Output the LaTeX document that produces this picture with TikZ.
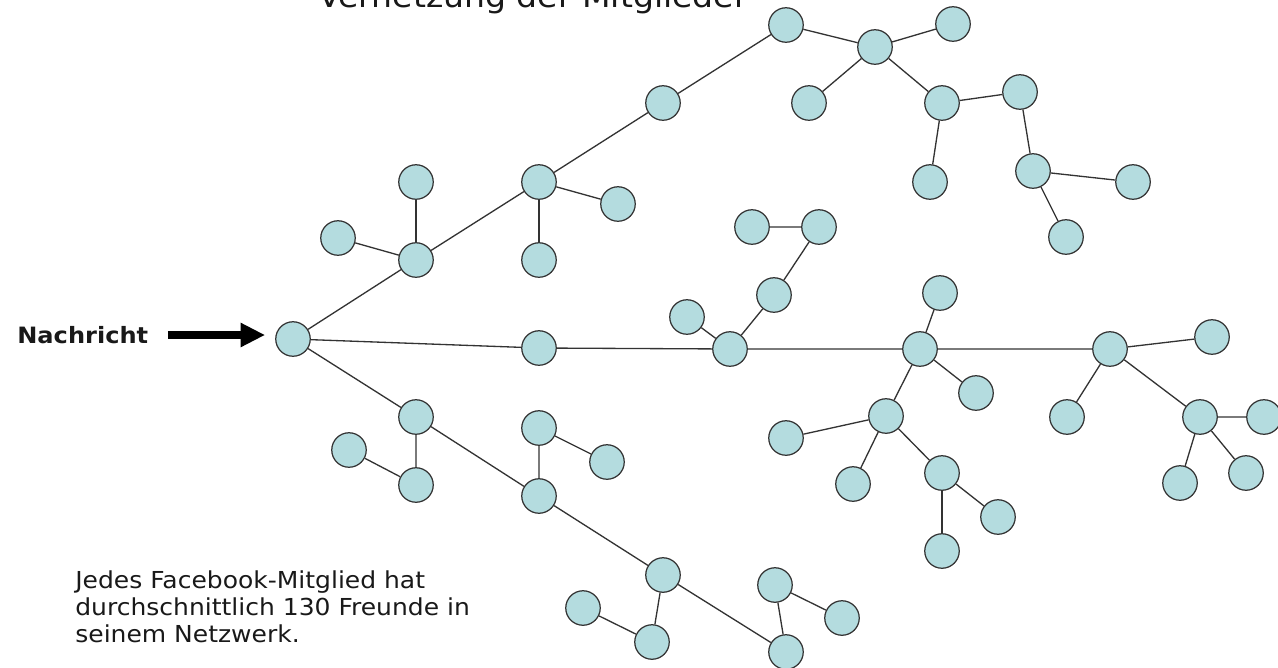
\documentclass[tikz,border=0pt]{standalone}
\usepackage{fontspec}
\newfontfamily\verdfont[FakeStretch=1.07]{DejaVu Sans}
\usetikzlibrary{arrows.meta}
\definecolor{memberfill}{RGB}{180,220,223}
\definecolor{textgray}{RGB}{25,25,25}

\begin{document}
\begin{tikzpicture}[x=0.02cm,y=-0.02cm,
  member/.style={circle,draw=black!80,line width=0.7pt,fill=memberfill,minimum size=0.69cm,inner sep=0pt},
  link/.style={draw=black!80,line width=0.75pt},
  msgarrow/.style={line width=4pt,-{Triangle[length=14pt,width=13pt]},shorten <=11pt,shorten >=5.7pt}]
\useasboundingbox (0,0) rectangle (1278,667);
\clip (0,0) rectangle (1278,667);
%\draw[step=50,gray,very thin] (0,0) grid (1278,667); %background grid

% title, cut at the top edge
\node[anchor=base west,inner sep=0pt,text=textgray,font=\verdfont\fontsize{17.6pt}{20pt}\selectfont] (title) at (318,7) {Vernetzung der Mitglieder};

% members
\node[member] (root) at (293,339) {};

\node[member] (a1) at (416,260) {};
\node[member] (a1t) at (416,182) {};
\node[member] (a1l) at (338,238) {};
\node[member] (a2) at (539,182) {};
\node[member] (a2r) at (618,204) {};
\node[member] (a2b) at (539,260) {};
\node[member] (a3) at (663,103) {};
\node[member] (a4) at (786,25) {};
\node[member] (a5) at (875,47) {};
\node[member] (a5r) at (953,24) {};
\node[member] (a5l) at (809,103) {};
\node[member] (a6) at (942,103) {};
\node[member] (a6b) at (930,182) {};
\node[member] (a7) at (1020,92) {};
\node[member] (a8) at (1033,171) {};
\node[member] (a8r) at (1133,182) {};
\node[member] (a8b) at (1066,237) {};

\node[member] (m1) at (539,348) {};
\node[member] (b) at (730,349) {};
\node[member] (bl) at (687,317) {};
\node[member] (bm) at (774,295) {};
\node[member] (btr) at (819,227) {};
\node[member] (btl) at (752,227) {};

\node[member] (c) at (920,349) {};
\node[member] (ct) at (940,293) {};
\node[member] (cr) at (976,393) {};
\node[member] (c2) at (886,416) {};
\node[member] (c2l) at (786,438) {};
\node[member] (c2b) at (853,484) {};
\node[member] (c3) at (942,473) {};
\node[member] (c3r) at (998,517) {};
\node[member] (c3b) at (942,551) {};

\node[member] (d) at (1110,349) {};
\node[member] (dtr) at (1212,337) {};
\node[member] (dl) at (1067,417) {};
\node[member] (d2) at (1200,417) {};
\node[member] (d2r) at (1264,417) {};
\node[member] (d2b) at (1180,483) {};
\node[member] (d2c) at (1246,473) {};

\node[member] (f1) at (416,417) {};
\node[member] (f1b) at (416,485) {};
\node[member] (f1l) at (349,450) {};
\node[member] (g) at (539,496) {};
\node[member] (gt) at (539,428) {};
\node[member] (gr) at (607,462) {};
\node[member] (h) at (663,575) {};
\node[member] (hb) at (652,642) {};
\node[member] (hl) at (583,608) {};
\node[member] (e) at (786,652) {};
\node[member] (et) at (775,585) {};
\node[member] (er) at (842,618) {};

% upper branch
\draw[link] (root) -- (a1) -- (a2) -- (a3) -- (a4) -- (a5) -- (a6) -- (a7) -- (a8) -- (a8r);
\draw[link] (a1) -- (a1t);
\draw[link] (a1) -- (a1l);
\draw[link] (a2) -- (a2r);
\draw[link] (a2) -- (a2b);
\draw[link] (a5) -- (a5r);
\draw[link] (a5) -- (a5l);
\draw[link] (a6) -- (a6b);
\draw[link] (a8) -- (a8b);

% middle branch
\draw[link] (root) -- (m1) -- (b) -- (c) -- (d) -- (d2) -- (d2r);
\draw[link] (b) -- (bl);
\draw[link] (b) -- (bm) -- (btr) -- (btl);
\draw[link] (c) -- (ct);
\draw[link] (c) -- (cr);
\draw[link] (c) -- (c2) -- (c3) -- (c3r);
\draw[link] (c2) -- (c2l);
\draw[link] (c2) -- (c2b);
\draw[link] (c3) -- (c3b);
\draw[link] (d) -- (dtr);
\draw[link] (d) -- (dl);
\draw[link] (d2) -- (d2b);
\draw[link] (d2) -- (d2c);

% lower branch
\draw[link] (root) -- (f1) -- (g) -- (h) -- (e) -- (et) -- (er);
\draw[link] (f1) -- (f1b) -- (f1l);
\draw[link] (g) -- (gt) -- (gr);
\draw[link] (h) -- (hb) -- (hl);

% message
\node[anchor=west,inner sep=0pt,text=textgray,font=\verdfont\bfseries\fontsize{12.8pt}{14pt}\selectfont] (msg) at (17,335) {Nachricht};
\draw[msgarrow] (msg.east) -- (msg.east -| root.west);

\node[anchor=north west,inner sep=0pt,align=left,text=textgray,font=\verdfont\fontsize{13.3pt}{15.6pt}\selectfont] (note) at (75,570) {Jedes Facebook-Mitglied hat\\durchschnittlich 130 Freunde in\\seinem Netzwerk.};
\end{tikzpicture}
\end{document}
